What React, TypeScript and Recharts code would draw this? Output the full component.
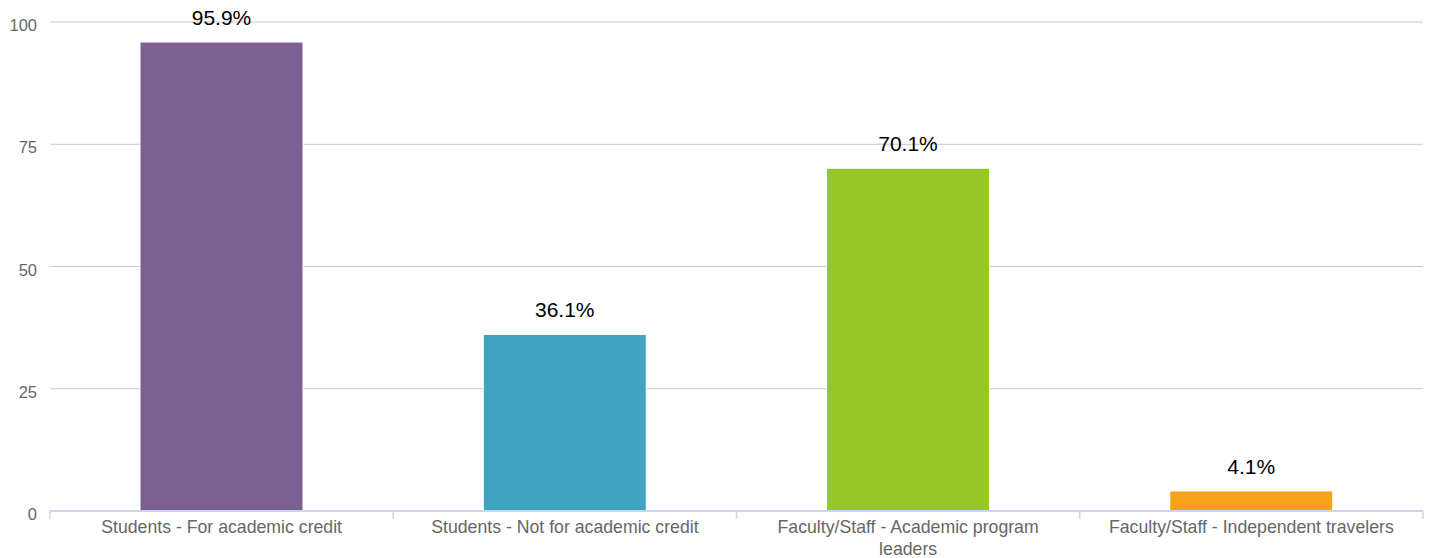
import React from 'react';
import { BarChart, Bar, XAxis, YAxis, CartesianGrid, LabelList, Cell } from 'recharts';

const categories = [
  'Students - For academic credit',
  'Students - Not for academic credit',
  'Faculty/Staff - Academic program leaders',
  'Faculty/Staff - Independent travelers',
];
const values = [95.9, 36.1, 70.1, 4.1];
const colors = ['#7b6091', '#41a3c2', '#95c826', '#f5a31b'];
const yTicks = [0, 25, 50, 75, 100];

const data = categories.map((name, i) => ({ name, value: values[i] }));

const FONT = '"Liberation Sans", Arial, sans-serif';
const CAT_FONT_SIZE = 17.7;
const WRAP_WIDTH = 300;

let ctx: CanvasRenderingContext2D | null = null;
function measure(s: string): number {
  if (typeof document === 'undefined') return s.length * CAT_FONT_SIZE * 0.5;
  if (!ctx) {
    const c = document.createElement('canvas');
    ctx = c.getContext('2d');
  }
  if (!ctx) return s.length * CAT_FONT_SIZE * 0.5;
  ctx.font = `${CAT_FONT_SIZE}px ${FONT}`;
  return ctx.measureText(s).width;
}

function wrap(text: string): string[] {
  const words = String(text).split(' ');
  const lines: string[] = [];
  let cur = '';
  for (const w of words) {
    const next = cur ? cur + ' ' + w : w;
    if (cur && measure(next) > WRAP_WIDTH) {
      lines.push(cur);
      cur = w;
    } else {
      cur = next;
    }
  }
  if (cur) lines.push(cur);
  return lines;
}

const XTick = (props: any) => {
  const { x, y, payload, index } = props;
  const half = payload && payload.offset ? payload.offset : 0;
  const last = index === categories.length - 1;
  const lines = wrap(payload.value);
  return (
    <g>
      <line x1={x - half} x2={x - half} y1={y} y2={y + 8} stroke="#ccd6eb" strokeWidth={1.5} />
      {last && <line x1={x + half} x2={x + half} y1={y} y2={y + 8} stroke="#ccd6eb" strokeWidth={1.5} />}
      <text
        x={x}
        y={y + 22}
        textAnchor="middle"
        fontSize={CAT_FONT_SIZE}
        fontFamily={FONT}
        fill="#666666"
      >
        {lines.map((l, i) => (
          <tspan key={i} x={x} dy={i === 0 ? 0 : 22}>
            {l}
          </tspan>
        ))}
      </text>
    </g>
  );
};

const YTick = (props: any) => {
  const { x, y, payload } = props;
  return (
    <text x={x} y={y} dy={9} textAnchor="end" fontSize={16.5} fontFamily={FONT} fill="#666666">
      {payload.value}
    </text>
  );
};

export default function App() {
  return (
    <div style={{ position: 'absolute', left: 0, top: 0 }}>
      <BarChart
        width={1429}
        height={558}
        data={data}
        margin={{ top: 22, right: 6, bottom: 17, left: 0 }}
        barCategoryGap={0}
      >
        <CartesianGrid vertical={false} stroke="#c8c8c8" />
        <XAxis
          dataKey="name"
          interval={0}
          tickLine={false}
          tickSize={0}
          tickMargin={0}
          height={30}
          axisLine={{ stroke: '#ccd6eb', strokeWidth: 2 }}
          tick={<XTick />}
        />
        <YAxis
          domain={[0, 100]}
          ticks={yTicks}
          width={50}
          axisLine={false}
          tickLine={false}
          tickSize={0}
          tickMargin={13}
          tick={<YTick />}
        />
        <Bar dataKey="value" barSize={163} isAnimationActive={false} stroke="#ffffff" strokeWidth={1}>
          {data.map((d, i) => (
            <Cell key={d.name} fill={colors[i]} />
          ))}
          <LabelList
            dataKey="value"
            position="top"
            offset={17}
            formatter={(v: any) => `${v}%`}
            style={{ fontSize: 21, fontFamily: FONT, fill: '#000000' }}
          />
        </Bar>
      </BarChart>
    </div>
  );
}
